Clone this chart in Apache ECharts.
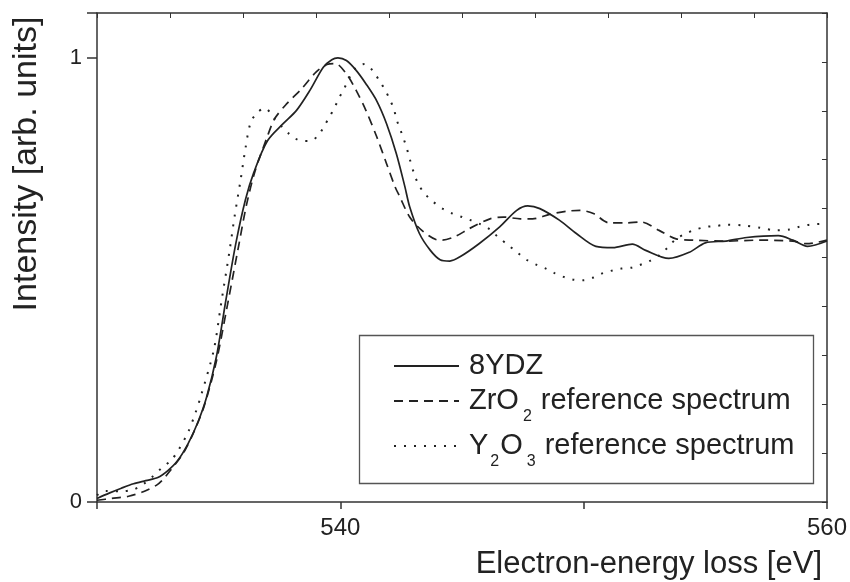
<!DOCTYPE html>
<html>
<head>
<meta charset="utf-8">
<script src="https://cdn.jsdelivr.net/npm/echarts@6/dist/echarts.min.js"></script>
<style>html,body{margin:0;padding:0;background:#fff}#c{width:850px;height:582px}</style>
</head>
<body>
<div id="c"></div>
<script>
// ---- Data ----
const seriesNames = ['8YDZ', 'ZrO2 reference spectrum', 'Y2O3 reference spectrum'];
const xTickLabels = [540, 560];
const yTickLabels = [0, 1];

const energy8YDZ = [530.0,530.5,531.0,531.5,532.0,532.5,532.9,533.3,533.75,534.15,534.5,534.9,535.3,535.7,536.1,536.45,537.0,537.65,538.2,538.75,539.3,539.65,539.9,540.25,540.65,541.05,541.5,541.9,542.3,542.65,542.85,543.25,543.7,544.1,544.5,544.9,545.7,546.55,547.25,547.7,548.2,549.0,549.7,550.5,551.2,552.0,552.55,553.5,554.35,555.0,555.85,556.7,558.0,558.6,559.2,560.0];
const intensity8YDZ = [0.008,0.02,0.031,0.041,0.048,0.055,0.07,0.092,0.132,0.18,0.235,0.325,0.455,0.58,0.68,0.742,0.812,0.851,0.881,0.926,0.978,0.995,0.999,0.993,0.971,0.941,0.902,0.851,0.784,0.71,0.664,0.604,0.566,0.545,0.542,0.551,0.581,0.619,0.656,0.666,0.66,0.634,0.604,0.575,0.572,0.58,0.566,0.548,0.562,0.583,0.587,0.595,0.599,0.589,0.575,0.587];

const energyZrO2 = [530.0,530.6,531.3,531.9,532.45,532.7,533.0,533.55,534.0,534.4,534.9,535.35,535.8,536.15,536.5,537.0,537.3,537.8,538.4,539.0,539.45,539.8,540.25,540.65,541.05,541.5,541.9,542.25,542.45,542.85,543.35,543.95,544.2,544.75,545.3,546.15,546.7,547.4,547.9,548.6,549.3,549.85,550.4,551.05,551.75,552.35,553.1,553.8,554.5,555.85,557.2,558.6,559.15,560.0];
const intensityZrO2 = [0.004,0.008,0.013,0.023,0.038,0.05,0.07,0.11,0.16,0.215,0.315,0.44,0.57,0.67,0.745,0.822,0.862,0.896,0.929,0.967,0.984,0.986,0.963,0.926,0.881,0.821,0.761,0.709,0.686,0.641,0.611,0.59,0.589,0.598,0.615,0.637,0.641,0.637,0.637,0.647,0.654,0.656,0.649,0.628,0.628,0.63,0.611,0.592,0.589,0.587,0.589,0.587,0.581,0.589];

const energyY2O3 = [530.0,530.35,531.0,531.5,531.9,532.3,532.65,533.05,533.35,533.75,534.05,534.3,534.8,535.1,535.45,535.65,535.9,536.1,536.3,536.55,536.9,537.3,537.9,538.35,538.75,539.1,539.35,539.55,539.77,539.95,540.15,540.35,540.65,541.0,541.35,541.6,541.85,542.05,542.2,542.3,542.45,542.6,542.72,542.85,543.03,543.2,543.45,543.8,544.2,544.6,545.0,545.35,545.75,546.15,546.5,546.9,547.3,547.65,548.05,548.45,548.8,549.2,549.6,550.0,550.4,550.8,551.2,551.55,551.95,552.3,552.7,553.1,553.45,553.8,554.2,554.6,555.05,555.45,555.85,556.55,557.25,557.9,558.45,558.85,559.3,560.0];
const intensityY2O3 = [0.015,0.025,0.024,0.028,0.04,0.058,0.076,0.094,0.117,0.158,0.201,0.244,0.342,0.446,0.566,0.641,0.724,0.795,0.851,0.874,0.886,0.862,0.828,0.813,0.812,0.825,0.847,0.866,0.888,0.909,0.929,0.952,0.978,0.985,0.969,0.948,0.926,0.903,0.885,0.862,0.84,0.817,0.798,0.772,0.739,0.716,0.695,0.676,0.66,0.649,0.641,0.634,0.625,0.613,0.595,0.578,0.56,0.545,0.534,0.525,0.515,0.506,0.5,0.499,0.505,0.515,0.521,0.525,0.527,0.533,0.542,0.555,0.572,0.592,0.604,0.613,0.619,0.621,0.624,0.622,0.617,0.611,0.613,0.619,0.624,0.626];

// ---- Chart ----
const zip = (a, b) => a.map((v, i) => [v, b[i]]);
const FONT = "'Liberation Sans', Arial, sans-serif";
const INK = '#222';
const AXIS = '#333';

const legendRich = {
  g: { width: 5, lineHeight: 48 },
  n: { fontSize: 29, lineHeight: 48, fontFamily: FONT, color: INK },
  s: { fontSize: 16, lineHeight: 16, fontFamily: FONT, color: INK, verticalAlign: 'bottom', padding: [0, 9, 0, 4] },
  s0: { fontSize: 16, lineHeight: 16, fontFamily: FONT, color: INK, verticalAlign: 'bottom', padding: [0, 1, 0, 2] }
};
const legendLabel = {
  '8YDZ': '{g|}{n|8YDZ}',
  'ZrO2 reference spectrum': '{g|}{n|ZrO}{s|2}{n|reference spectrum}',
  'Y2O3 reference spectrum': '{g|}{n|Y}{s0|2}{n|O}{s|3}{n|reference spectrum}'
};
const legendTops = [342, 377, 422];
function makeLegend(i) {
  return {
    data: [seriesNames[i]],
    left: 393, top: legendTops[i],
    orient: 'vertical', padding: 0,
    itemWidth: 65, itemHeight: 2, itemGap: 10,
    selectedMode: false,
    itemStyle: { opacity: 0 },
    formatter: (name) => legendLabel[name],
    textStyle: { rich: legendRich, fontSize: 29, lineHeight: 48, fontFamily: FONT, color: INK }
  };
}

const chart = echarts.init(document.getElementById('c'), null, { renderer: 'canvas' });
chart.setOption({
  animation: false,
  backgroundColor: '#fff',
  grid: { left: 97, right: 22, top: 13, bottom: 80 },
  legend: [makeLegend(0), makeLegend(1), makeLegend(2)],
  graphic: [
    { type: 'rect', z: 0, shape: { x: 359.5, y: 335.5, width: 454, height: 148 },
      style: { fill: '#fff', stroke: '#555', lineWidth: 1.3 } },
    { type: 'text', x: 27, y: 164, rotation: Math.PI / 2,
      style: { text: 'Intensity [arb. units]', fontSize: 34, fontFamily: FONT, fill: INK,
               textAlign: 'center', textVerticalAlign: 'middle' } },
    { type: 'text', x: 822, y: 564,
      style: { text: 'Electron-energy loss [eV]', fontSize: 31, fontFamily: FONT, fill: INK,
               textAlign: 'right', textVerticalAlign: 'middle' } }
  ],
  xAxis: [
    { type: 'value', position: 'bottom', min: 530, max: 560, interval: 10,
      axisLine: { show: true, onZero: false, lineStyle: { color: AXIS, width: 1.5 } },
      axisTick: { show: true, inside: false, length: 7, lineStyle: { color: AXIS, width: 1.5 } },
      axisLabel: { show: true, margin: 14, fontSize: 24, fontFamily: FONT, color: INK,
                   showMinLabel: true, showMaxLabel: true,
                   formatter: (v) => xTickLabels.indexOf(v) >= 0 ? String(v) : '' },
      splitLine: { show: false } },
    { type: 'value', position: 'top', min: 530, max: 560, interval: 3,
      axisLine: { show: true, onZero: false, lineStyle: { color: AXIS, width: 1.5 } },
      axisTick: { show: true, inside: true, length: 5, lineStyle: { color: AXIS, width: 1 } },
      axisLabel: { show: false }, splitLine: { show: false } }
  ],
  yAxis: [
    { type: 'value', position: 'left', min: 0, max: 1.1, interval: 1,
      axisLine: { show: true, onZero: false, lineStyle: { color: AXIS, width: 1.5 } },
      axisTick: { show: true, inside: false, length: 10, lineStyle: { color: AXIS, width: 1.5 } },
      axisLabel: { show: true, margin: 15, fontSize: 22, fontFamily: FONT, color: INK,
                   formatter: (v) => yTickLabels.indexOf(v) >= 0 ? String(v) : '' },
      splitLine: { show: false } },
    { type: 'value', position: 'right', min: 0, max: 1.1, interval: 0.11,
      axisLine: { show: true, onZero: false, lineStyle: { color: AXIS, width: 1.5 } },
      axisTick: { show: true, inside: true, length: 5, lineStyle: { color: AXIS, width: 1 } },
      axisLabel: { show: false }, splitLine: { show: false } }
  ],
  series: [
    { name: seriesNames[0], type: 'line', data: zip(energy8YDZ, intensity8YDZ),
      xAxisIndex: 0, yAxisIndex: 0, symbol: 'none', smooth: 0.3, z: 3,
      lineStyle: { color: INK, width: 1.7, type: 'solid' }, itemStyle: { color: INK } },
    { name: seriesNames[1], type: 'line', data: zip(energyZrO2, intensityZrO2),
      xAxisIndex: 0, yAxisIndex: 0, symbol: 'none', smooth: 0.3, z: 3,
      lineStyle: { color: INK, width: 1.7, type: [9, 6] }, itemStyle: { color: INK } },
    { name: seriesNames[2], type: 'line', data: zip(energyY2O3, intensityY2O3),
      xAxisIndex: 0, yAxisIndex: 0, symbol: 'none', smooth: 0.3, z: 3,
      lineStyle: { color: INK, width: 2, type: [2, 8] }, itemStyle: { color: INK } }
  ]
});
</script>
</body>
</html>
